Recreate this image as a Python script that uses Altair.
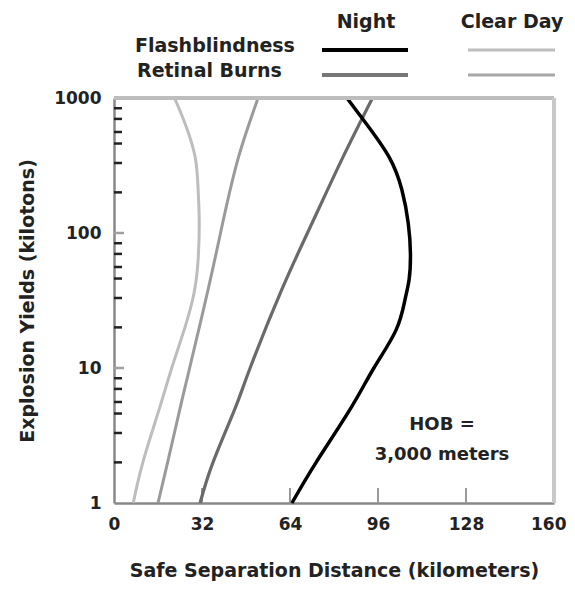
import altair as alt
import pandas as pd

# ---- data ----
nf_yield = [1, 2, 5, 10, 19, 32, 45, 70, 118, 208, 366, 650, 1000]
nf_km = [64.7, 73.5, 86, 94.5, 102.5, 105.8, 107.3, 107.8, 107, 104.7, 100, 91.6, 84.7]
nr_yield = [1, 2, 5, 10, 38, 118, 366, 1000]
nr_km = [31.3, 36, 44, 49.5, 61, 72, 83.3, 94]
cf_yield = [1, 2, 5, 10, 20, 35, 60, 118, 208, 366, 650, 1000]
cf_km = [7, 10.5, 16.5, 21, 25.8, 29, 30.5, 31, 30.6, 29.5, 25.8, 22]
cr_yield = [1, 2, 5, 10, 38, 118, 366, 1000]
cr_km = [16, 19.5, 24, 27.5, 34.2, 39.5, 45.3, 52.4]

x_tick_labels = [0, 32, 64, 96, 128, 160]
x_inner_ticks = [32, 64, 96, 128]
y_tick_labels = [1, 10, 100, 1000]
y_major_inner = [10, 100]
y_minor_inner = [2, 3.3, 4.6, 5.6, 7, 8.4,
                 20, 33, 46, 56, 70, 84,
                 200, 330, 460, 560, 700, 840]

col_headers = ["Night", "Clear Day"]
row_labels = ["Flashblindness", "Retinal Burns"]
note_lines = ["HOB =", "3,000 meters"]
x_title = "Safe Separation Distance (kilometers)"
y_title = "Explosion Yields (kilotons)"

W, H = 440, 405
FONT = "DejaVu Sans"
TXT = "#222222"

xscale = alt.Scale(domain=[0, 160], nice=False, zero=False)
yscale = alt.Scale(type="log", domain=[1, 1000], nice=False)

last_test = "datum.value >= 160"
xaxis = alt.Axis(values=x_tick_labels, ticks=False, grid=False,
                 domainColor="#888888", domainWidth=2.5,
                 labelFont=FONT, labelFontWeight="bold", labelFontSize=17,
                 labelColor=TXT, labelPadding=13, labelFlush=False,
                 labelAlign={"condition": {"test": last_test, "value": "right"},
                             "value": "center"},
                 labelOffset={"condition": {"test": last_test, "value": 12},
                              "value": 0},
                 title=x_title, titleFont=FONT, titleFontWeight="bold",
                 titleFontSize=19, titleColor=TXT, titlePadding=29)
yaxis = alt.Axis(values=y_tick_labels, format="d", ticks=False, grid=False,
                 domainColor="#888888", domainWidth=2.5,
                 labelFont=FONT, labelFontWeight="bold", labelFontSize=17,
                 labelColor=TXT, labelPadding=13,
                 title=y_title, titleFont=FONT, titleFontWeight="bold",
                 titleFontSize=19, titleColor=TXT, titlePadding=16)


def X():
    return alt.X("km:Q", scale=xscale, axis=xaxis)


def Y():
    return alt.Y("yield:Q", scale=yscale, axis=yaxis)


series = [
    ("Clear Day Flashblindness", cf_yield, cf_km, "#bdbdbd", 3),
    ("Clear Day Retinal Burns", cr_yield, cr_km, "#9a9a9a", 3),
    ("Night Retinal Burns", nr_yield, nr_km, "#6a6a6a", 3.2),
    ("Night Flashblindness", nf_yield, nf_km, "#000000", 3.5),
]

layers = []

frame_df = pd.DataFrame({"a": [0]})

# inner ticks on the y axis
layers.append(alt.Chart(pd.DataFrame({"yield": y_minor_inner})).mark_rule(
    color="#222222", strokeWidth=2.5).encode(
    y=Y(), x=alt.value(0), x2=alt.value(8)))
layers.append(alt.Chart(pd.DataFrame({"yield": y_major_inner})).mark_rule(
    color="#a0a0a0", strokeWidth=2.5).encode(
    y=Y(), x=alt.value(0), x2=alt.value(10)))

# inner ticks on the x axis
layers.append(alt.Chart(pd.DataFrame({"km": x_inner_ticks})).mark_rule(
    color="#999999", strokeWidth=2).encode(
    x=X(), y=alt.value(H), y2=alt.value(H - 15)))

# curves
for name, ys, ks, color, sw in series:
    df = pd.DataFrame({"yield": ys, "km": ks, "series": name})
    layers.append(alt.Chart(df).mark_line(color=color, strokeWidth=sw,
                                          interpolate="natural").encode(
        x=X(), y=Y(), order=alt.Order("yield:Q")))

# frame top / right
layers.append(alt.Chart(frame_df).mark_rule(color="#bdbdbd", strokeWidth=4).encode(
    x=alt.value(0), x2=alt.value(W), y=alt.value(0)))
layers.append(alt.Chart(frame_df).mark_rule(color="#c8c8c8", strokeWidth=4).encode(
    x=alt.value(W), y=alt.value(0), y2=alt.value(H)))


# legend (drawn above the plot)
def text_layer(txt, x, y, align="left", size=19, weight="bold"):
    return alt.Chart(pd.DataFrame({"t": [txt]})).mark_text(
        font=FONT, fontWeight=weight, fontSize=size, color=TXT,
        align=align, baseline="middle").encode(
        text="t:N", x=alt.value(x), y=alt.value(y))


layers.append(text_layer(col_headers[0], 252, -76, align="center"))
layers.append(text_layer(col_headers[1], 398, -76, align="center"))
layers.append(text_layer(row_labels[0], 21, -52))
layers.append(text_layer(row_labels[1], 23, -27))

leg_rules = [
    (208, 294, -48, "#000000", 4),
    (208, 294, -23, "#777777", 4),
    (354, 441, -48, "#bdbdbd", 3),
    (354, 441, -23, "#a8a8a8", 3),
]
for x1, x2, yy, c, sw in leg_rules:
    layers.append(alt.Chart(frame_df).mark_rule(color=c, strokeWidth=sw).encode(
        x=alt.value(x1), x2=alt.value(x2), y=alt.value(yy)))

# HOB note
layers.append(text_layer(note_lines[0], 328, 327, align="center", size=18))
layers.append(text_layer(note_lines[1], 328, 357, align="center", size=18))

chart = alt.layer(*layers).properties(
    width=W, height=H,
    padding={"left": 106, "top": 90, "right": 13, "bottom": 82},
    autosize=alt.AutoSizeParams(type="none"),
    background="white",
).configure_view(stroke=None)

chart.save("out.html", embed_options={"renderer": "svg", "actions": False})
